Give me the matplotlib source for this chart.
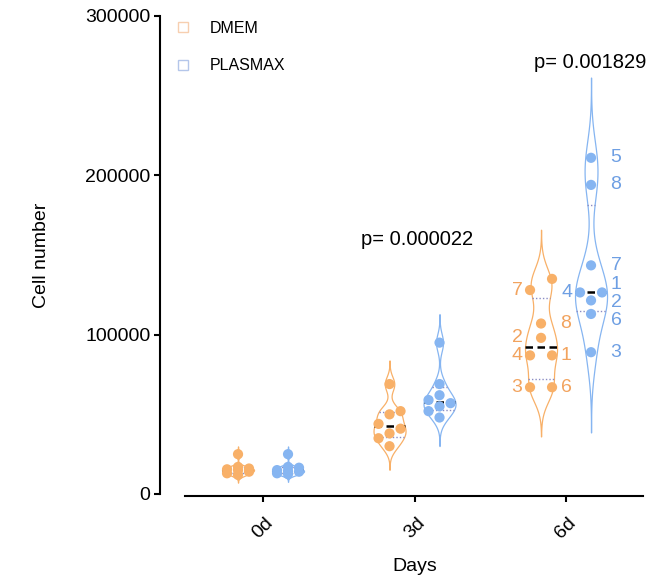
import numpy as np
import matplotlib
matplotlib.use("Agg")
import matplotlib.pyplot as plt
from matplotlib.lines import Line2D

plt.rcParams['font.family'] = ['Liberation Sans', 'DejaVu Sans']

days = ['0d', '3d', '6d']
groups = ['DMEM', 'PLASMAX']

dmem_0d = [25000, 17000, 16000, 15500, 15000, 14000, 13000, 12000]
plasmax_0d = [25000, 17000, 16500, 15000, 14500, 14000, 13000, 12500]
dmem_3d = [69000, 52000, 50000, 44000, 41000, 38000, 35000, 30000]
plasmax_3d = [95000, 69000, 62000, 59000, 57000, 55000, 52000, 48000]
# day 6 replicates, listed by replicate number
dmem_6d = [87000, 98000, 67000, 87000, 135000, 67000, 128000, 107000]
plasmax_6d = [126500, 121500, 89000, 126500, 211000, 113000, 143500, 194000]
dmem_6d_ids = ['1', '2', '3', '4', '', '6', '7', '8']
plasmax_6d_ids = ['1', '2', '3', '4', '5', '6', '7', '8']
dmem_6d_side = ['r', 'l', 'l', 'l', 'r', 'r', 'l', 'r']
plasmax_6d_side = ['r', 'r', 'r', 'l', 'r', 'r', 'r', 'r']

p_values = ['0.000022', '0.001829']

orange = '#F8B068'
blue = '#86B5F1'
orange_txt = '#F2A35E'
blue_txt = '#6E9FE3'

# pixel scales of the axes (used for the dot swarm and label spacing)
PX_X = 151.5
PX_Y = 159.3 / 1e5
DOT = 10.5
OFFSET = 0.165
HALF_W = 16.0 / PX_X
LABEL_GAP = 18.0


def swarm(values, sides=None):
    vals = np.asarray(values, float)
    n = len(vals)
    if sides is None:
        sides = ['l' if k % 2 == 0 else 'r' for k in range(n)]
    order = np.argsort(vals, kind='stable')
    ypx = vals * PX_Y
    clusters = []
    for i in order:
        if clusters and ypx[i] - ypx[clusters[-1][-1]] < 12.0:
            clusters[-1].append(i)
        else:
            clusters.append([i])
    off = np.zeros(n)
    for cl in clusters:
        if len(cl) == 2:
            a, b = cl
            if sides[b] == 'l' and sides[a] != 'l':
                a, b = b, a
            off[a], off[b] = -11.0, 11.0
        elif len(cl) > 2:
            placed = []
            for i in cl:
                cands = [0, -1, 1] if sides[i] == 'l' else [0, 1, -1]
                best, best_d = 0.0, -1.0
                for k in cands:
                    x = k * 11.0
                    d = min([np.hypot(x - px, ypx[i] - py) for px, py in placed] or [99.0])
                    if d >= DOT:
                        best = x
                        break
                    if d > best_d:
                        best, best_d = x, d
                off[i] = best
                placed.append((best, ypx[i]))
    return off / PX_X


def spread_labels(ys):
    # push labels apart vertically, keeping each crowded group centred
    ypx = np.asarray(ys, float) * PX_Y
    order = np.argsort(ypx)
    groups_ = [[i] for i in order]
    changed = True
    while changed and groups_:
        changed = False
        merged = [groups_[0]]
        for g in groups_[1:]:
            prev = merged[-1]
            top_prev = ypx[prev].mean() + (len(prev) - 1) * LABEL_GAP / 2
            bot_g = ypx[g].mean() - (len(g) - 1) * LABEL_GAP / 2
            if bot_g - top_prev < LABEL_GAP:
                merged[-1] = prev + g
                changed = True
            else:
                merged.append(g)
        groups_ = merged
    out = np.empty(len(ypx))
    for g in groups_:
        c = ypx[g].mean()
        for k, i in enumerate(g):
            out[i] = c + (k - (len(g) - 1) / 2) * LABEL_GAP
    return out / PX_Y


def violin(ax, x0, values, color):
    v = np.asarray(values, float)
    bw = 0.38 * v.std(ddof=1)
    grid = np.linspace(v.min() - 3.2 * bw, v.max() + 3.2 * bw, 300)
    dens = np.exp(-0.5 * ((grid[:, None] - v[None, :]) / bw) ** 2).sum(axis=1)
    w = dens / dens.max() * HALF_W
    ax.fill_betweenx(grid, x0 - w, x0 + w, facecolor='white', edgecolor=color, lw=0.9, zorder=1)

    def width_at(y):
        return np.interp(y, grid, w)

    q1, med, q3 = np.percentile(v, [25, 50, 75], method='weibull')
    for q in (q1, q3):
        hw = width_at(q)
        ax.plot([x0 - hw, x0 + hw], [q, q], color='#8a8cc4', lw=1.0,
                ls=(0, (1, 1.5)), zorder=2)
    hw = width_at(med)
    ax.plot([x0 - hw, x0 + hw], [med, med], color='black', lw=1.8,
            ls=(0, (3, 1.8)), zorder=2)


fig = plt.figure(figsize=(6.53, 5.77), dpi=100)
ax = fig.add_axes([160 / 653, 1 - 494 / 577, 483 / 653, 478 / 577])

data = {
    'DMEM': [dmem_0d, dmem_3d, dmem_6d],
    'PLASMAX': [plasmax_0d, plasmax_3d, plasmax_6d],
}
colors = {'DMEM': orange, 'PLASMAX': blue}
txt_colors = {'DMEM': orange_txt, 'PLASMAX': blue_txt}
ids_6d = {'DMEM': dmem_6d_ids, 'PLASMAX': plasmax_6d_ids}
sides_6d = {'DMEM': dmem_6d_side, 'PLASMAX': plasmax_6d_side}

for g, sign in zip(groups, (-1, 1)):
    for i, vals in enumerate(data[g]):
        x0 = i + sign * OFFSET
        violin(ax, x0, vals, colors[g])
        sides = sides_6d[g] if i == 2 else None
        xs = x0 + swarm(vals, sides)
        ax.scatter(xs, vals, s=54, color=colors[g], edgecolors='none', zorder=3)
        if i == 2:
            labs = np.array(ids_6d[g])
            sd = np.array(sides)
            vv = np.array(vals, float)
            for side, dx in (('l', -24 / PX_X), ('r', 25 / PX_X)):
                sel = (sd == side) & (labs != '')
                ly = spread_labels(vv[sel])
                for lab, y in zip(labs[sel], ly):
                    ax.text(x0 + dx, y, lab, color=txt_colors[g], fontsize=14,
                            ha='center', va='center', zorder=4)

ax.text(1.02, 160000, 'p= ' + p_values[0], fontsize=14.5, ha='center', va='center')
ax.text(2.16, 270600, 'p= ' + p_values[1], fontsize=14.5, ha='center', va='center')

ax.set_xlim(-0.680, 2.508)
ax.set_ylim(0, 300000)
ax.set_yticks([0, 100000, 200000, 300000])
ax.set_yticklabels(['0', '100000', '200000', '300000'])
ax.set_xticks(range(len(days)))
ax.set_xticklabels(days)

for s in ('top', 'right'):
    ax.spines[s].set_visible(False)
ax.spines['left'].set_linewidth(1.5)
ax.spines['bottom'].set_linewidth(1.5)
ax.spines['bottom'].set_position(('outward', 1.5))
ax.spines['bottom'].set_bounds(-0.515, 2.508)
ax.tick_params(axis='both', width=1.5, length=4, labelsize=14, pad=3)
ax.tick_params(axis='x', labelrotation=45, pad=9)

ax.set_ylabel('Cell number', fontsize=14)
ax.yaxis.set_label_coords(-0.228, 0.5)
ax.set_xlabel('Days', fontsize=14)
ax.xaxis.set_label_coords(0.528, -0.134)

handles = [Line2D([], [], ls='none', marker='s', markersize=6.5, markerfacecolor='none',
                  markeredgecolor=c, markeredgewidth=1.0)
           for c in ('#F7CFB0', '#B4C6EA')]
ax.legend(handles, groups, loc='upper left', bbox_to_anchor=(0.031, 0.9895),
          frameon=False, fontsize=11.5, handlelength=1.0, handletextpad=1.2,
          labelspacing=1.4, borderpad=0, borderaxespad=0)

fig.savefig('out.png', dpi=100)
